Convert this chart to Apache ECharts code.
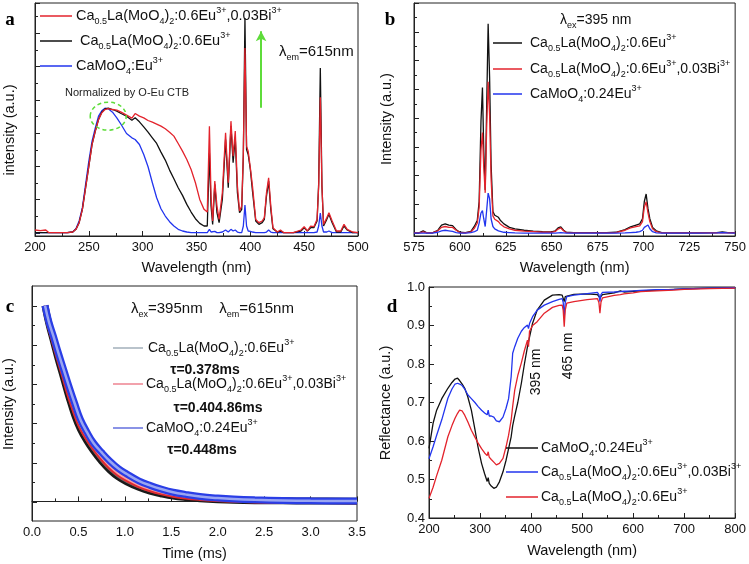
<!DOCTYPE html>
<html><head><meta charset="utf-8">
<script src="https://cdn.jsdelivr.net/npm/echarts@6/dist/echarts.min.js"></script>
<style>html,body{margin:0;padding:0;background:#fff}#c{width:749px;height:564px}</style>
</head><body><div id="c"></div>
<script>
// ---------- Panel a: excitation spectra (lambda_em = 615 nm) ----------
const aWl = [200,205,210,213,220,230,235,238,241,244,247,250,253,256,259,262,265,268,272,276,280,285,290,293,297,301,305,309,313,317,321,325,329,333,337,341,345,349,353,357,360,362,363.5,365,367,369,371,374,377,379.5,382,384,386,388,390,392,393.5,395,396.5,398,400,402,405,408,411,413,415,417,419,421,425,428,431,440,447,450,453,456,459,462,463.5,465,466.5,468,471,473,476,480,484,487,490,495,500];
const aRed = [0.18,0.16,0.18,0.1,0.1,0.1,0.12,0.2,0.4,0.8,1.45,2.1,2.75,3.15,3.5,3.7,3.8,3.83,3.8,3.78,3.72,3.63,3.54,3.68,3.6,3.55,3.47,3.42,3.36,3.3,3.22,3.12,3.0,2.78,2.55,2.3,2.0,1.6,1.1,0.8,0.72,3.3,1.2,0.45,1.65,0.9,0.5,1.3,3.1,1.6,3.45,2.4,3.15,1.5,0.75,0.9,2.5,5.65,2.7,2.55,2.05,1.5,0.5,0.4,0.45,0.55,1.3,1.75,0.9,0.25,0.12,0.18,0.1,0.1,0.18,0.28,0.15,0.3,0.28,0.5,1.5,4.17,1.5,0.35,0.55,0.7,0.45,0.15,0.15,0.35,0.2,0.12,0.1];
const aBlack = [0.1,0.1,0.1,0.1,0.1,0.1,0.12,0.2,0.4,0.8,1.45,2.1,2.75,3.15,3.5,3.72,3.82,3.84,3.8,3.75,3.68,3.6,3.48,3.55,3.43,3.28,3.12,2.95,2.78,2.52,2.28,1.98,1.72,1.45,1.22,0.95,0.72,0.52,0.38,0.3,0.3,2.5,0.9,0.35,1.55,0.7,0.4,1.1,2.9,1.45,3.3,2.2,2.95,1.3,0.7,0.8,2.4,6.55,2.6,2.45,2.0,1.35,0.45,0.35,0.4,0.5,1.2,1.65,0.8,0.22,0.12,0.15,0.1,0.1,0.15,0.25,0.15,0.25,0.25,0.45,1.6,5.05,1.5,0.3,0.5,0.65,0.4,0.12,0.12,0.3,0.18,0.1,0.1];
const aBlue = [0.1,0.1,0.1,0.1,0.1,0.1,0.12,0.22,0.45,0.85,1.55,2.25,2.85,3.25,3.6,3.76,3.84,3.82,3.72,3.55,3.35,3.08,2.95,2.9,2.75,2.45,2.08,1.6,1.15,0.82,0.6,0.43,0.3,0.2,0.15,0.12,0.1,0.1,0.1,0.1,0.1,0.2,0.12,0.1,0.14,0.1,0.1,0.12,0.18,0.12,0.2,0.15,0.18,0.12,0.1,0.1,0.3,0.93,0.3,0.15,0.14,0.12,0.1,0.1,0.1,0.1,0.12,0.18,0.12,0.1,0.1,0.1,0.1,0.1,0.1,0.1,0.1,0.1,0.1,0.12,0.3,0.69,0.3,0.12,0.12,0.15,0.1,0.1,0.1,0.1,0.1,0.1,0.1];

// ---------- Panel b: emission spectra (lambda_ex = 395 nm) ----------
const bWl = [575,578,580,582,585,588,590,592,594,596,598,600,603,606,608,609.5,610.5,611.5,612.3,613,613.8,614.6,615.4,616.2,617,618,619,620,621,622,624,627,630,635,640,645,650,652,653.5,655,656.5,658,662,670,680,685,690,693,696,698,699.5,700.5,701.5,702.5,703.5,705,707,710,715,720,730,740,743,746,750];
const bBlack = [0.11,0.12,0.18,0.11,0.11,0.2,0.38,0.42,0.38,0.36,0.22,0.13,0.12,0.16,0.35,0.55,1.2,4.0,5.16,3.0,1.6,4.5,7.38,5.5,2.5,0.85,0.72,0.7,0.65,0.55,0.42,0.3,0.25,0.2,0.17,0.15,0.14,0.18,0.28,0.32,0.2,0.13,0.12,0.12,0.12,0.13,0.22,0.32,0.38,0.42,0.6,1.2,1.46,0.95,0.6,0.3,0.18,0.12,0.11,0.11,0.11,0.12,0.14,0.12,0.12];
const bRed = [0.11,0.11,0.14,0.11,0.11,0.18,0.3,0.33,0.3,0.3,0.2,0.12,0.11,0.14,0.28,0.45,1.0,3.0,3.6,2.4,1.5,3.8,5.36,4.2,2.0,0.7,0.58,0.55,0.5,0.42,0.32,0.25,0.2,0.17,0.15,0.13,0.13,0.16,0.24,0.28,0.18,0.12,0.11,0.11,0.11,0.12,0.2,0.28,0.33,0.35,0.5,1.0,1.19,0.8,0.5,0.25,0.15,0.11,0.11,0.11,0.11,0.11,0.12,0.11,0.11];
const bBlue = [0.1,0.1,0.1,0.1,0.1,0.13,0.18,0.2,0.18,0.16,0.12,0.1,0.1,0.12,0.15,0.2,0.45,0.8,0.88,0.6,0.33,0.9,1.49,1.3,0.6,0.33,0.25,0.2,0.18,0.15,0.13,0.12,0.11,0.1,0.1,0.1,0.1,0.1,0.11,0.12,0.11,0.1,0.1,0.1,0.1,0.1,0.11,0.12,0.13,0.15,0.2,0.3,0.36,0.38,0.25,0.15,0.11,0.1,0.1,0.1,0.1,0.11,0.12,0.11,0.1];

// ---------- Panel c: decay curves ----------
const cT = [0.14,0.18,0.23,0.28,0.34,0.40,0.46,0.52,0.59,0.66,0.75,0.84,0.93,1.02,1.15,1.27,1.4,1.52,1.65,1.81,2.0,2.17,2.4,2.7,3.0,3.5];
const cBlack = [1.0,0.91,0.82,0.73,0.63,0.53,0.44,0.37,0.31,0.26,0.205,0.16,0.125,0.10,0.072,0.053,0.038,0.027,0.02,0.014,0.009,0.006,0.004,0.003,0.002,0.001];
const cRed = [1.0,0.915,0.83,0.745,0.65,0.55,0.465,0.39,0.33,0.28,0.225,0.178,0.142,0.115,0.084,0.063,0.046,0.034,0.025,0.018,0.012,0.008,0.005,0.003,0.002,0.001];
const cBlue = [1.0,0.92,0.845,0.765,0.675,0.585,0.5,0.42,0.355,0.30,0.25,0.205,0.168,0.14,0.105,0.082,0.062,0.047,0.036,0.025,0.017,0.012,0.008,0.005,0.003,0.002];

// ---------- Panel d: diffuse reflectance ----------
const dWl = [200,208,215,225,237,245,251,256,260,265,270,276,283,290,296,303,309,314,316,318,322,327,332,338,345,351,356,361,364,368,374,381,387,393,395,397,403,412,426,442,455,461,463,465,467,470,484,510,530,533,535,537,540,563,575,582,600,615,646,680,700,750,800];
const dBlack = [0.581,0.646,0.68,0.71,0.737,0.752,0.761,0.763,0.757,0.748,0.737,0.715,0.68,0.63,0.585,0.542,0.515,0.495,0.505,0.49,0.483,0.477,0.48,0.494,0.52,0.55,0.58,0.611,0.64,0.665,0.70,0.75,0.8,0.845,0.85,0.87,0.906,0.94,0.966,0.979,0.98,0.979,0.975,0.962,0.975,0.98,0.981,0.982,0.98,0.978,0.972,0.977,0.98,0.985,0.99,0.987,0.989,0.99,0.992,0.994,0.995,0.997,0.998];
const dBlue = [0.554,0.585,0.615,0.655,0.711,0.735,0.748,0.75,0.748,0.744,0.735,0.72,0.71,0.70,0.69,0.68,0.673,0.668,0.68,0.665,0.665,0.662,0.652,0.65,0.662,0.685,0.71,0.767,0.828,0.845,0.867,0.885,0.895,0.901,0.892,0.905,0.923,0.94,0.953,0.962,0.968,0.97,0.96,0.92,0.96,0.975,0.979,0.983,0.986,0.98,0.962,0.98,0.986,0.987,0.988,0.989,0.99,0.991,0.993,0.994,0.995,0.997,0.998];
const dRed = [0.451,0.48,0.51,0.55,0.611,0.64,0.659,0.672,0.68,0.678,0.667,0.65,0.628,0.61,0.595,0.58,0.569,0.562,0.572,0.558,0.552,0.545,0.538,0.542,0.555,0.585,0.615,0.654,0.69,0.732,0.77,0.803,0.835,0.862,0.845,0.885,0.9,0.91,0.932,0.947,0.952,0.953,0.94,0.897,0.94,0.958,0.962,0.967,0.97,0.96,0.932,0.96,0.972,0.978,0.98,0.982,0.985,0.988,0.99,0.992,0.994,0.996,0.997];

const RED = '#e3232c', BLUE = '#2235ee', BLACK = '#111111', GREEN = '#5edc3a';
const FONT = 'Liberation Sans, Arial, sans-serif';
const TXT = '#111';
const zip = (xs, ys) => xs.map((x, i) => [x, ys[i]]);

const chart = echarts.init(document.getElementById('c'), null, {renderer: 'canvas'});

function gridOf(l, t, w, h, show) {
  return {left: l, top: t, width: w, height: h, show: show !== false, borderColor: '#222', borderWidth: 1, containLabel: false};
}
function xAx(gi, min, max, interval, name, gap, fmt) {
  return {
    type: 'value', gridIndex: gi, min, max, interval,
    name, nameLocation: 'middle', nameGap: gap,
    nameTextStyle: {fontSize: 14.5, color: TXT, fontFamily: FONT},
    axisLine: {show: true, lineStyle: {color: '#222', width: 1}},
    axisTick: {show: true, inside: true, length: 5, lineStyle: {color: '#222'}},
    minorTick: {show: true, splitNumber: 2, length: 3, lineStyle: {color: '#222'}},
    splitLine: {show: false}, minorSplitLine: {show: false},
    axisLabel: {show: true, fontSize: 13, color: TXT, fontFamily: FONT, margin: 5, formatter: fmt}
  };
}
function hiddenX(gi) {
  return {type: 'value', gridIndex: gi, min: 0, max: 1, show: false};
}
function yAx(gi, min, max, interval, showLabel, fmt, ticks) {
  return {
    type: 'value', gridIndex: gi, min, max, interval, position: 'left',
    axisLine: {show: true, lineStyle: {color: '#222', width: 1}},
    axisTick: {show: ticks, inside: true, length: 5, lineStyle: {color: '#222'}},
    minorTick: {show: ticks, splitNumber: 2, length: 3, lineStyle: {color: '#222'}},
    splitLine: {show: false}, minorSplitLine: {show: false},
    axisLabel: {show: showLabel, fontSize: 13, color: TXT, fontFamily: FONT, margin: 4, formatter: fmt}
  };
}
// tick-only axis living on an invisible grid whose bottom sits on the value 0 line
function tickAx(gi, max, interval) {
  return {
    type: 'value', gridIndex: gi, min: 0, max, interval, position: 'left',
    axisLine: {show: false},
    axisTick: {show: true, inside: true, length: 5, lineStyle: {color: '#222'}},
    minorTick: {show: true, splitNumber: 2, length: 3, lineStyle: {color: '#222'}},
    splitLine: {show: false}, minorSplitLine: {show: false},
    axisLabel: {show: false}
  };
}
const f1 = v => v.toFixed(1);

function line(name, xi, yi, data, color, width, extra) {
  return Object.assign({
    name, type: 'line', xAxisIndex: xi, yAxisIndex: yi, data,
    showSymbol: false, symbol: 'none', animation: false,
    lineStyle: {color, width}, itemStyle: {color}, z: 3
  }, extra || {});
}

const option = {
  animation: false,
  backgroundColor: '#fff',
  grid: [
    gridOf(35, 3, 323, 233), gridOf(414, 3, 323, 233), gridOf(32, 286, 325, 235), gridOf(429, 287, 308, 231),
    gridOf(35, 3, 323, 230, false), gridOf(414, 3, 323, 230, false), gridOf(32, 306, 325, 196, false)
  ],
  xAxis: [
    xAx(0, 200, 500, 50, 'Wavelength (nm)', 24),
    xAx(1, 575, 750, 25, 'Wavelength (nm)', 24),
    xAx(2, 0, 3.5, 0.5, 'Time (ms)', 25, f1),
    xAx(3, 200, 800, 100, 'Wavelength (nm)', 25),
    hiddenX(4), hiddenX(5), hiddenX(6)
  ],
  yAxis: [
    yAx(0, 0, 7, 1, false, null, false),
    yAx(1, 0, 8.1, 1, false, null, false),
    yAx(2, -0.1, 1.1, 0.1, false, null, false),
    yAx(3, 0.4, 1.0, 0.1, true, f1, true),
    tickAx(4, 6.91, 1),
    tickAx(5, 8.01, 1),
    tickAx(6, 1.0, 0.2)
  ],
  series: [
    // panel a
    line('a-blue', 0, 0, zip(aWl, aBlue), BLUE, 1.3),
    line('a-black', 0, 0, zip(aWl, aBlack), BLACK, 1.3, {
      markLine: {
        silent: true, symbol: ['none', 'arrow'], symbolSize: [8, 10],
        label: {show: false},
        lineStyle: {color: GREEN, width: 2, type: 'solid'},
        data: [[{coord: [410, 3.85]}, {coord: [410, 6.15]}]]
      }
    }),
    line('a-red', 0, 0, zip(aWl, aRed), RED, 1.3),
    // panel b
    line('b-black', 1, 1, zip(bWl, bBlack), BLACK, 1.3),
    line('b-red', 1, 1, zip(bWl, bRed), RED, 1.3),
    line('b-blue', 1, 1, zip(bWl, bBlue), BLUE, 1.3),
    // panel c (thick bands of dense circle markers)
    line('c-black', 2, 2, zip(cT, cBlack), '#1a1a1a', 7, {smooth: 0.4}),
    line('c-black-in', 2, 2, zip(cT, cBlack), '#6a6a6a', 2, {smooth: 0.4}),
    line('c-red', 2, 2, zip(cT, cRed), '#e02a30', 6, {smooth: 0.4}),
    line('c-red-in', 2, 2, zip(cT, cRed), '#f7a0a4', 2, {smooth: 0.4}),
    line('c-blue', 2, 2, zip(cT, cBlue), '#2a3ee6', 7, {smooth: 0.4}),
    line('c-blue-in', 2, 2, zip(cT, cBlue), '#9aa6f2', 2.5, {smooth: 0.4}),
    // panel d
    line('d-black', 3, 3, zip(dWl, dBlack), BLACK, 1.3),
    line('d-blue', 3, 3, zip(dWl, dBlue), BLUE, 1.3),
    line('d-red', 3, 3, zip(dWl, dRed), RED, 1.3)
  ]
};
chart.setOption(option);

// ---------- annotations ----------
const RICH = (fs) => ({
  sub: {fontSize: Math.round(fs * 0.62), fontFamily: FONT, fill: TXT, verticalAlign: 'bottom', lineHeight: 9},
  sup: {fontSize: Math.round(fs * 0.62), fontFamily: FONT, fill: TXT, verticalAlign: 'top', lineHeight: 9}
});
function rtext(x, y, text, fs, extraStyle) {
  return {
    type: 'text', x, y, z: 100, silent: true,
    style: Object.assign({text, fontSize: fs, fontFamily: FONT, fill: TXT, align: 'left', verticalAlign: 'middle', lineHeight: 20, rich: RICH(fs)}, extraStyle || {})
  };
}
function seg(x1, x2, y, color, w) {
  return {type: 'line', z: 100, silent: true, shape: {x1, y1: y, x2, y2: y}, style: {stroke: color, lineWidth: w || 1.5}};
}
function vtext(x, y, text, fs) {
  return {type: 'text', x, y, rotation: Math.PI / 2, z: 100, silent: true,
    style: {text, fontSize: fs, fontFamily: FONT, fill: TXT, align: 'center', verticalAlign: 'middle'}};
}
function letter(x, y, t) {
  return {type: 'text', x, y, z: 100, silent: true,
    style: {text: t, fontSize: 19, fontWeight: 'bold', fontFamily: 'Liberation Serif, Times New Roman, serif', fill: '#000', align: 'center', verticalAlign: 'middle'}};
}
const S_BI = 'Ca{sub|0.5}La(MoO{sub|4}){sub|2}:0.6Eu{sup|3+},0.03Bi{sup|3+}';
const S_LA = 'Ca{sub|0.5}La(MoO{sub|4}){sub|2}:0.6Eu{sup|3+}';
const S_CA = 'CaMoO{sub|4}:0.24Eu{sup|3+}';
const BOLD = {align: 'center', fontWeight: 'bold'};

const ell = chart.convertToPixel({xAxisIndex: 0, yAxisIndex: 0}, [268, 3.6]);

const graphics = [
  letter(10, 20, 'a'), letter(390, 20, 'b'), letter(10, 307, 'c'), letter(392, 307, 'd'),
  vtext(10, 130, 'intensity (a.u.)', 14.5),
  vtext(387, 119, 'Intensity (a.u.)', 14.5),
  vtext(9, 404, 'Intensity (a.u.)', 14.5),
  vtext(386, 403, 'Reflectance (a.u.)', 14.5),
  // panel a legend
  seg(40, 72, 16, RED), rtext(76, 16, S_BI, 14.5),
  seg(40, 72, 41, BLACK), rtext(80, 41, S_LA, 14.5),
  seg(40, 72, 66, BLUE), rtext(76, 66, 'CaMoO{sub|4}:Eu{sup|3+}', 14.5),
  rtext(65, 93, 'Normalized by O-Eu CTB', 11, {fill: '#222'}),
  rtext(279, 52, 'λ{sub|em}=615nm', 15),
  {type: 'ellipse', z: 100, silent: true, shape: {cx: ell[0], cy: ell[1], rx: 18, ry: 14},
   style: {fill: 'none', stroke: GREEN, lineWidth: 1.5, lineDash: [4, 3]}},
  // panel b legend
  rtext(560, 20, 'λ{sub|ex}=395 nm', 14),
  seg(493, 522, 43, BLACK), rtext(530, 43, S_LA, 14),
  seg(493, 522, 69, RED), rtext(530, 69, S_BI, 14),
  seg(493, 522, 94, BLUE), rtext(530, 94, S_CA, 14),
  // panel c legend
  rtext(131, 309, 'λ{sub|ex}=395nm    λ{sub|em}=615nm', 15),
  seg(113, 143, 348, '#b9c3cb', 2), rtext(148, 348, S_LA, 14),
  rtext(205, 370, 'τ=0.378ms', 14, BOLD),
  seg(113, 143, 384, '#f2a2ac', 2), rtext(146, 384, S_BI, 14),
  rtext(218, 408, 'τ=0.404.86ms', 14, BOLD),
  seg(113, 143, 428, '#8a93e6', 2), rtext(146, 428, S_CA, 14),
  rtext(202, 450, 'τ=0.448ms', 14, BOLD),
  // panel d legend
  seg(506, 538, 448, BLACK), rtext(541, 448, S_CA, 14),
  seg(506, 538, 472, BLUE), rtext(541, 472, S_BI, 14),
  seg(506, 538, 497, RED), rtext(541, 497, S_LA, 14),
  vtext(536, 372, '395 nm', 14),
  vtext(568, 356, '465 nm', 14)
];
chart.setOption({graphic: graphics});
</script>
</body></html>
